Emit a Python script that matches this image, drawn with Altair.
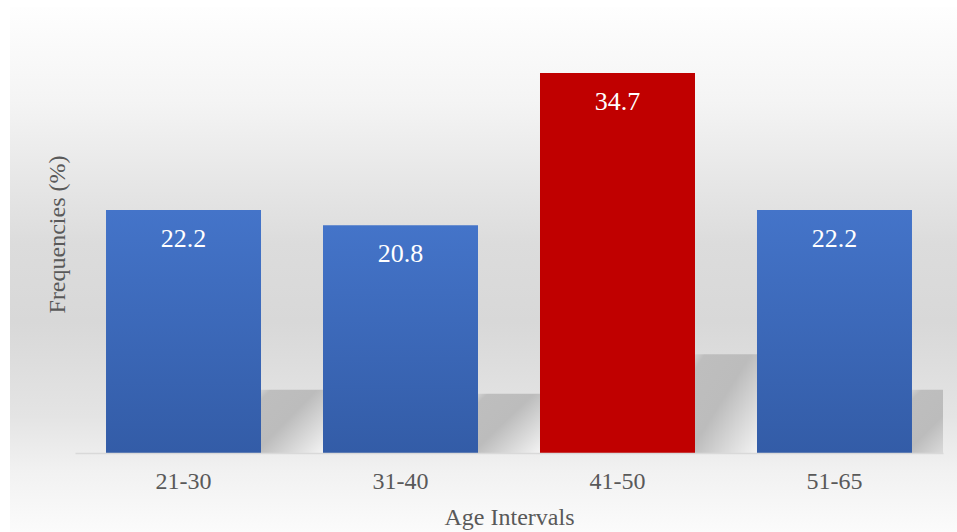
import altair as alt
import pandas as pd

categories = ["21-30", "31-40", "41-50", "51-65"]
values = [22.2, 20.8, 34.7, 22.2]
highlight = [False, False, True, False]
index = [0, 1, 2, 3]

df = pd.DataFrame({"cat": categories, "val": values, "hi": highlight, "idx": index})

W, H = 868, 438
FONT = "Liberation Serif"

blue_grad = alt.LinearGradient(
    gradient="linear", x1=0, y1=0, x2=0, y2=1,
    stops=[alt.GradientStop(offset=0, color="#4474C9"),
           alt.GradientStop(offset=1, color="#335CA7")])
bg_grad = alt.LinearGradient(
    gradient="linear", x1=0, y1=0, x2=0, y2=1,
    stops=[alt.GradientStop(offset=0, color="#fefefe"),
           alt.GradientStop(offset=0.18, color="#f4f4f4"),
           alt.GradientStop(offset=0.45, color="#dcdcdc"),
           alt.GradientStop(offset=0.6, color="#d8d8d8"),
           alt.GradientStop(offset=0.78, color="#e4e4e4"),
           alt.GradientStop(offset=0.88, color="#f1f1f1"),
           alt.GradientStop(offset=1, color="#fbfbfb")])
shadow_grad = alt.LinearGradient(
    gradient="linear", x1=0, y1=0, x2=1, y2=1,
    stops=[alt.GradientStop(offset=0, color="#d2d2d2"),
           alt.GradientStop(offset=0.08, color="#bebebe"),
           alt.GradientStop(offset=0.45, color="#bcbcbc"),
           alt.GradientStop(offset=1, color="#f3f3f3")])

yscale = alt.Scale(domain=[0, 40])
xscale = alt.Scale(paddingInner=0.2857, paddingOuter=0.1429)

yaxis = alt.Axis(
    title="Frequencies (%)", labels=False, ticks=False, domain=False, grid=False,
    titleFont=FONT, titleFontSize=24, titleColor="#595959", titleFontWeight="normal",
    titleAngle=270, titleX=-18, titleY=H / 2, titleBaseline="middle", titleAlign="center",
    zindex=1)
xaxis = alt.Axis(
    title="Age Intervals", labelAngle=0, labelFont=FONT, labelFontSize=24,
    labelColor="#595959", labelPadding=28, labelBaseline="middle",
    titleFont=FONT, titleFontSize=24, titleColor="#595959", titleFontWeight="normal",
    titleY=64, titleBaseline="middle",
    domainColor="#d9d9d9", domainWidth=1.5, ticks=False, grid=False, zindex=1)

base = alt.Chart(df)

background = base.transform_filter("datum.idx == 0").mark_rect(
    fill=bg_grad, clip=False).encode(
    x=alt.value(-65), x2=alt.value(W + 14), y=alt.value(-8), y2=alt.value(H + 79))

shadows = base.transform_calculate(
    sx="datum.idx + 0.857", sx2="datum.idx + 1.143", sy="datum.val * 0.26"
).mark_rect(fill=shadow_grad, clip=True).encode(
    x=alt.X("sx:Q", scale=alt.Scale(domain=[0, 4], nice=False, zero=False), axis=None),
    x2="sx2:Q",
    y=alt.Y("sy:Q", scale=yscale, axis=yaxis),
    y2=alt.datum(0),
)

blue_bars = base.transform_filter("!datum.hi").mark_bar(fill=blue_grad).encode(
    x=alt.X("cat:N", sort=categories, scale=xscale, axis=xaxis),
    y=alt.Y("val:Q", scale=yscale, axis=yaxis),
)
red_bars = base.transform_filter("datum.hi").mark_bar(fill="#C00000").encode(
    x=alt.X("cat:N", sort=categories, scale=xscale),
    y=alt.Y("val:Q", scale=yscale),
)
labels = base.mark_text(font=FONT, fontSize=26, color="white", baseline="middle", dy=29).encode(
    x=alt.X("cat:N", sort=categories, scale=xscale),
    y=alt.Y("val:Q", scale=yscale),
    text=alt.Text("val:Q", format=".1f"),
)

bars = alt.layer(blue_bars, red_bars, labels)

chart = alt.layer(background, shadows, bars).resolve_scale(x="independent").properties(
    width=W, height=H,
    autosize=alt.AutoSizeParams(type="none"),
    padding={"left": 75, "top": 15, "right": 14, "bottom": 79},
    background="white",
).configure_view(strokeWidth=0)

chart.save("out.html", embed_options={"renderer": "svg", "actions": False})
